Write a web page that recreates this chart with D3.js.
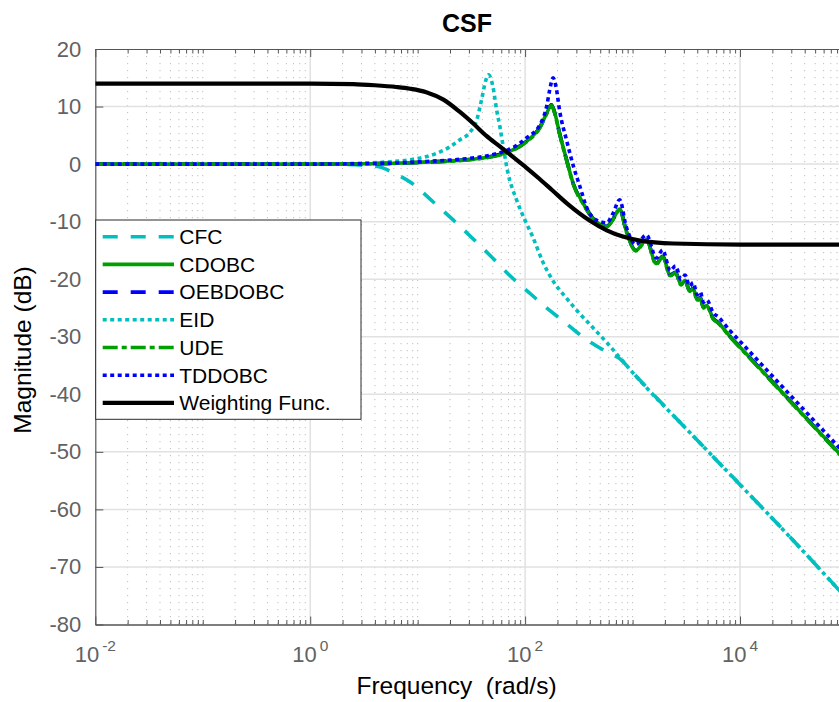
<!DOCTYPE html>
<html>
<head>
<meta charset="utf-8">
<script src="https://cdn.jsdelivr.net/npm/d3@7"></script>
<style>
  html, body { margin: 0; padding: 0; background: #fff; }
  svg { display: block; font-family: "Liberation Sans", Arial, Helvetica, sans-serif; }
</style>
</head>
<body>
<svg id="chart" width="839" height="702"></svg>
<script>
// ---- Data: log10 of frequency (rad/s) and magnitude (dB) for each curve ----
const cfcLogW = [-2, 0, 0.3, 0.5, 0.65, 0.77, 0.944, 1.14, 1.33, 1.5, 1.67, 1.86, 2.06, 2.2, 2.37, 2.55, 2.7, 2.8, 2.88, 3.0, 3.5, 4.0, 4.5, 4.95];
const cfcDb   = [0, 0, -0.05, -0.2, -0.5, -1.5, -3.3, -6.5, -9.7, -12.7, -15.8, -19.4, -22.7, -25.0, -27.5, -30.2, -32.0, -33.0, -33.8, -36.2, -46.0, -55.7, -65.5, -74.6];

const cdobcLogW = [-2, 0, 0.5, 0.8, 1.02, 1.3, 1.51, 1.64, 1.77, 1.89, 2.01, 2.14, 2.2, 2.245, 2.28, 2.32, 2.385, 2.45, 2.54, 2.63, 2.7, 2.76, 2.82, 2.88, 2.94, 3.03, 3.13, 3.22, 3.28, 3.35, 3.40, 3.45, 3.49, 3.53, 3.565, 3.60, 3.63, 3.66, 3.69, 3.75, 3.8, 3.9, 4.0, 4.2, 4.5, 4.7, 4.95];
const cdobcDb   = [0, 0, 0.05, 0.15, 0.3, 0.55, 0.85, 1.15, 1.7, 2.5, 3.9, 6.5, 8.8, 10.3, 8.6, 5.4, 0.8, -3.5, -6.8, -9.4, -10.5, -10.8, -9.5, -7.8, -11.5, -15.0, -13.2, -17.3, -16.0, -19.3, -18.8, -20.9, -20.2, -22.0, -21.6, -23.6, -23.2, -24.9, -24.6, -26.8, -27.6, -29.8, -31.8, -35.8, -41.8, -45.8, -50.8];

const oebdobcLogW = [-2, 0, 0.5, 0.8, 1.02, 1.3, 1.51, 1.64, 1.77, 1.89, 2.01, 2.14, 2.2, 2.245, 2.28, 2.32, 2.385, 2.45, 2.54, 2.63, 2.7, 2.76, 2.82, 2.88, 2.94, 3.03, 3.13, 3.22, 3.28, 3.35, 3.40, 3.45, 3.49, 3.53, 3.565, 3.60, 3.63, 3.66, 3.69, 3.75, 3.8, 3.9, 4.0, 4.2, 4.5, 4.7, 4.95];
const oebdobcDb   = [0, 0, 0.05, 0.15, 0.3, 0.55, 0.85, 1.15, 1.7, 2.5, 3.9, 6.5, 8.8, 10.3, 8.6, 5.4, 0.8, -3.5, -6.8, -9.4, -10.5, -10.8, -9.5, -7.8, -11.5, -15.0, -13.2, -17.3, -16.0, -19.3, -18.8, -20.9, -20.2, -22.0, -21.6, -23.6, -23.2, -24.9, -24.6, -26.8, -27.6, -29.8, -31.8, -35.8, -41.8, -45.8, -50.8];

const eidLogW = [-2, 0, 0.4, 0.7, 0.93, 1.18, 1.3, 1.39, 1.49, 1.55, 1.595, 1.635, 1.66, 1.70, 1.735, 1.765, 1.79, 1.84, 1.92, 2.0, 2.07, 2.165, 2.26, 2.385, 2.48, 2.63, 2.76, 2.88, 3.0, 3.5, 4.0, 4.5, 4.95];
const eidDb   = [0, 0, 0.1, 0.35, 0.75, 1.9, 3.0, 4.2, 5.6, 7.7, 11.2, 14.6, 15.5, 13.5, 9.4, 6.5, 3.7, -1.5, -6.2, -9.8, -12.6, -17.0, -20.3, -23.3, -25.4, -28.4, -31.0, -33.6, -36.2, -46.0, -55.7, -65.5, -74.6];

const udeLogW = [-2, 0, 0.5, 0.8, 1.02, 1.3, 1.51, 1.64, 1.77, 1.89, 2.01, 2.14, 2.2, 2.245, 2.28, 2.32, 2.385, 2.45, 2.54, 2.63, 2.7, 2.76, 2.82, 2.88, 2.94, 3.03, 3.13, 3.22, 3.28, 3.35, 3.40, 3.45, 3.49, 3.53, 3.565, 3.60, 3.63, 3.66, 3.69, 3.75, 3.8, 3.9, 4.0, 4.2, 4.5, 4.7, 4.95];
const udeDb   = [0, 0, 0.05, 0.15, 0.3, 0.5, 0.8, 1.1, 1.6, 2.4, 3.8, 6.4, 8.7, 10.2, 8.5, 5.3, 0.7, -3.6, -6.9, -9.5, -10.6, -10.9, -9.6, -7.9, -11.6, -15.1, -13.3, -17.4, -16.1, -19.4, -18.9, -21.0, -20.3, -22.1, -21.7, -23.7, -23.3, -25.0, -24.7, -26.9, -27.7, -29.9, -31.9, -35.9, -41.9, -45.9, -50.9];

const tddobcLogW = [-2, 0, 0.5, 0.8, 1.02, 1.3, 1.51, 1.64, 1.77, 1.89, 2.01, 2.14, 2.2, 2.23, 2.26, 2.29, 2.32, 2.385, 2.45, 2.51, 2.57, 2.66, 2.76, 2.82, 2.88, 2.94, 3.03, 3.13, 3.22, 3.28, 3.35, 3.40, 3.45, 3.49, 3.53, 3.565, 3.60, 3.63, 3.66, 3.69, 3.75, 3.8, 3.9, 4.0, 4.2, 4.5, 4.7, 4.95];
const tddobcDb   = [0, 0, 0.08, 0.2, 0.4, 0.7, 1.05, 1.4, 2.0, 2.9, 4.5, 6.9, 10.0, 13.0, 15.0, 13.2, 9.4, 4.2, -0.4, -3.9, -7.4, -9.7, -10.2, -8.5, -6.2, -10.8, -14.0, -12.3, -16.3, -14.9, -18.5, -17.7, -20.0, -19.3, -21.2, -20.6, -22.7, -22.2, -24.0, -23.6, -25.8, -26.6, -28.8, -30.8, -34.8, -40.8, -44.8, -49.8];

const weightLogW = [-2, 0, 0.4, 0.6, 0.8, 0.93, 1.08, 1.24, 1.39, 1.52, 1.64, 1.77, 1.89, 2.01, 2.13, 2.25, 2.4, 2.6, 2.76, 2.91, 3.07, 3.38, 4.0, 5.0];
const weightDb   = [14.0, 14.0, 13.9, 13.7, 13.4, 13.1, 12.5, 11.2, 9.1, 7.0, 4.9, 3.0, 1.2, -0.6, -2.5, -4.5, -7.0, -9.8, -11.5, -12.6, -13.3, -13.8, -14.0, -14.0];

// Axis ticks
const yTicks = [-80, -70, -60, -50, -40, -30, -20, -10, 0, 10, 20];
const xMajorExponents = [-2, 0, 2, 4];

// ---- Layout ----
const svg = d3.select("#chart");
const plot = { left: 95.3, top: 49, right: 840, bottom: 624.5 };
const xMax = 8.52e4;

const x = d3.scaleLog().domain([1e-2, xMax]).range([plot.left, plot.right]);
const y = d3.scaleLinear().domain([-80, 20]).range([plot.bottom, plot.top]);

const xMajor = xMajorExponents.map(e => Math.pow(10, e));
const xMinor = [];
for (let n = -2; n <= 4; n++) {
  for (let k = 1; k <= 9; k++) {
    if (k === 1 && n % 2 === 0) continue;
    const v = k * Math.pow(10, n);
    if (v < xMax) xMinor.push(v);
  }
}

const defs = svg.append("defs");
defs.append("clipPath").attr("id", "plot-clip")
  .append("rect")
  .attr("x", plot.left).attr("y", plot.top)
  .attr("width", plot.right - plot.left).attr("height", plot.bottom - plot.top);

// ---- Grid ----
const grid = svg.append("g");
grid.selectAll("line.minor").data(xMinor).join("line")
  .attr("class", "minor")
  .attr("x1", d => x(d)).attr("x2", d => x(d))
  .attr("y1", plot.top).attr("y2", plot.bottom)
  .attr("stroke", "#bdbdbd").attr("stroke-width", 1)
  .attr("stroke-dasharray", "1.2,5.8");
grid.selectAll("line.hmajor").data(yTicks.filter(t => t > -80 && t < 20)).join("line")
  .attr("class", "hmajor")
  .attr("x1", plot.left).attr("x2", plot.right)
  .attr("y1", d => y(d)).attr("y2", d => y(d))
  .attr("stroke", "#e1e1e1").attr("stroke-width", 1.5);
grid.selectAll("line.vmajor").data(xMajor.filter(v => v > 1e-2)).join("line")
  .attr("class", "vmajor")
  .attr("x1", d => x(d)).attr("x2", d => x(d))
  .attr("y1", plot.top).attr("y2", plot.bottom)
  .attr("stroke", "#e1e1e1").attr("stroke-width", 1.5);

// ---- Axes ----
const axisColor = "#555";
const tickColor = "#626262";

function styleAxis(g) {
  g.selectAll("path.domain").attr("stroke", axisColor).attr("stroke-width", 1.2);
  g.selectAll(".tick line").attr("stroke", axisColor).attr("stroke-width", 1);
}

svg.append("g")
  .attr("transform", `translate(0,${plot.bottom})`)
  .call(d3.axisBottom(x).tickValues(xMinor).tickSize(-4.5).tickSizeOuter(0).tickFormat(""))
  .call(styleAxis);
svg.append("g")
  .attr("transform", `translate(0,${plot.bottom})`)
  .call(d3.axisBottom(x).tickValues(xMajor).tickSize(-8).tickSizeOuter(0).tickFormat(""))
  .call(styleAxis);
svg.append("g")
  .attr("transform", `translate(0,${plot.top})`)
  .call(d3.axisTop(x).tickValues(xMinor).tickSize(-4.5).tickSizeOuter(0).tickFormat(""))
  .call(styleAxis);
svg.append("g")
  .attr("transform", `translate(0,${plot.top})`)
  .call(d3.axisTop(x).tickValues(xMajor).tickSize(-8).tickSizeOuter(0).tickFormat(""))
  .call(styleAxis);

const yAxis = svg.append("g")
  .attr("transform", `translate(${plot.left},0)`)
  .call(d3.axisLeft(y).tickValues(yTicks).tickSize(-8).tickSizeOuter(0).tickPadding(14).tickFormat(d => String(d)))
  .call(styleAxis);
yAxis.selectAll(".tick text")
  .attr("fill", tickColor)
  .attr("font-size", 22)
  .attr("font-family", "Liberation Sans, Arial, Helvetica, sans-serif");

// x tick labels with superscript exponents
const xLabels = svg.append("g");
xMajorExponents.forEach(e => {
  const t = xLabels.append("text")
    .attr("x", x(Math.pow(10, e)))
    .attr("y", 661.7)
    .attr("text-anchor", "middle")
    .attr("fill", tickColor)
    .attr("font-size", 22);
  t.append("tspan").text("10");
  t.append("tspan").attr("dx", 3).attr("dy", -11).attr("font-size", 15.5).text(String(e));
});

// ---- Curves ----
const series = [
  { name: "CFC",      logW: cfcLogW,     db: cfcDb,     color: "#00bfbf", width: 3.6, dash: "15,13" },
  { name: "CDOBC",    logW: cdobcLogW,   db: cdobcDb,   color: "#009f00", width: 3.6, dash: null },
  { name: "OEBDOBC",  logW: oebdobcLogW, db: oebdobcDb, color: "#0000ff", width: 3.6, dash: "15,13" },
  { name: "EID",      logW: eidLogW,     db: eidDb,     color: "#00bfbf", width: 3.6, dash: "4,3.5" },
  { name: "UDE",      logW: udeLogW,     db: udeDb,     color: "#009f00", width: 3.6, dash: "15,4,5,4" },
  { name: "TDDOBC",   logW: tddobcLogW,  db: tddobcDb,  color: "#0000ff", width: 3.6, dash: "4,3.5" },
  { name: "Weighting Func.", logW: weightLogW, db: weightDb, color: "#000000", width: 4.2, dash: null }
];

const line = d3.line()
  .x(d => x(Math.pow(10, d[0])))
  .y(d => y(d[1]))
  .curve(d3.curveMonotoneX);

const curves = svg.append("g").attr("clip-path", "url(#plot-clip)");
series.forEach(s => {
  const pts = s.logW.map((w, i) => [w, s.db[i]]);
  curves.append("path")
    .datum(pts)
    .attr("d", line)
    .attr("fill", "none")
    .attr("stroke", s.color)
    .attr("stroke-width", s.width)
    .attr("stroke-linejoin", "round")
    .attr("stroke-dasharray", s.dash);
});

// ---- Legend ----
const lg = svg.append("g");
lg.append("rect")
  .attr("x", 95.7).attr("y", 220)
  .attr("width", 265.3).attr("height", 199.3)
  .attr("fill", "#fff").attr("stroke", "#2b2b2b").attr("stroke-width", 1);
series.forEach((s, i) => {
  const yy = 236.7 + i * 27.7;
  lg.append("line")
    .attr("x1", 102.7).attr("x2", 174)
    .attr("y1", yy).attr("y2", yy)
    .attr("stroke", s.color)
    .attr("stroke-width", s.width)
    .attr("stroke-dasharray", s.dash);
  lg.append("text")
    .attr("x", 179.3).attr("y", yy)
    .attr("dy", "0.35em")
    .attr("font-size", 21)
    .attr("fill", "#000")
    .text(s.name);
});

// ---- Titles ----
svg.append("text")
  .attr("x", 467).attr("y", 31.5)
  .attr("text-anchor", "middle")
  .attr("font-size", 25).attr("font-weight", "bold")
  .attr("fill", "#000")
  .text("CSF");

svg.append("text")
  .attr("x", 456.5).attr("y", 694)
  .attr("text-anchor", "middle")
  .attr("font-size", 24.5)
  .attr("fill", "#000")
  .text("Frequency\u00a0 (rad/s)");

svg.append("text")
  .attr("transform", "translate(31,350) rotate(-90)")
  .attr("text-anchor", "middle")
  .attr("font-size", 24.5)
  .attr("fill", "#000")
  .text("Magnitude (dB)");
</script>
</body>
</html>
